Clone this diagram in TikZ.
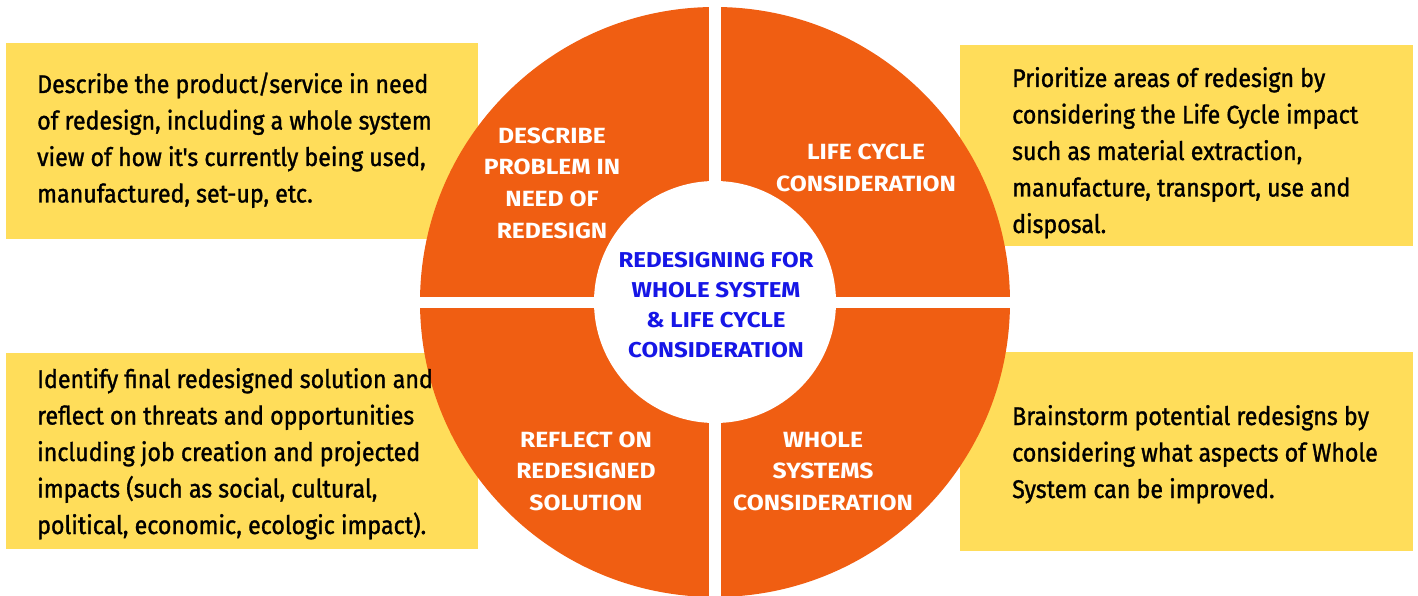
\documentclass[tikz,border=0pt]{standalone}
\usepackage{fontspec}
\setmainfont{Fira Sans}[FakeStretch=0.91,FakeBold=1.2,Ligatures=TeXOff]
\newfontfamily\labelfont{Fira Sans}[FakeStretch=1.12,UprightFont=* Bold]
\definecolor{wheelorange}{RGB}{240,94,18}
\definecolor{boxyellow}{RGB}{255,221,90}
\definecolor{centerblue}{RGB}{22,22,230}
\begin{document}
\begin{tikzpicture}[x=1pt,y=-1pt,
  infobox/.style={fill=boxyellow},
  bodytext/.style={anchor=base west,align=left,inner sep=0pt,
    font=\fontsize{25.5}{36.5}\selectfont,text=black},
  seglabel/.style={align=center,inner sep=0pt,text=white,
    font=\fontsize{22}{31.6}\selectfont\labelfont},
  hublabel/.style={align=center,inner sep=0pt,text=centerblue,
    font=\fontsize{21.5}{30.2}\selectfont\labelfont}]
\useasboundingbox (0,0) rectangle (1418,596);
% yellow boxes
\fill[infobox] (6,43) rectangle (478,239);
\fill[infobox] (960,45) rectangle (1413,246);
\fill[infobox] (6,353) rectangle (478,549);
\fill[infobox] (960,352) rectangle (1413,551);
% wheel
\coordinate (hub) at (715,302);
\fill[wheelorange] (hub) circle[radius=295];
\begin{scope}
  \clip (hub) circle[radius=296];
  \fill[white] (709,0) rectangle (721,600);
  \fill[white] (410,297) rectangle (1020,308);
\end{scope}
\fill[white] (hub) circle[radius=121];
% segment labels
\node[seglabel] (describe) at (552,183) {DESCRIBE\\PROBLEM IN\\NEED OF\\REDESIGN};
\node[seglabel] (lifecycle) at (866,168) {LIFE CYCLE\\CONSIDERATION};
\node[seglabel] (reflect) at (586,471) {REFLECT ON\\REDESIGNED\\SOLUTION};
\node[seglabel] (whole) at (823,471) {WHOLE\\SYSTEMS\\CONSIDERATION};
\node[hublabel] (center) at (716,305) {REDESIGNING FOR\\WHOLE SYSTEM\\\& LIFE CYCLE\\CONSIDERATION};
% body texts (anchored at the baseline of the last line)
\node[bodytext] (tl) at (37,202.5) {Describe the product/service in need\\of redesign, including a whole system\\view of how it's currently being used,\\manufactured, set-up, etc.};
\node[bodytext] (tr) at (1012,233) {Prioritize areas of redesign by\\considering the Life Cycle impact\\such as material extraction,\\manufacture, transport, use and\\disposal.};
\node[bodytext] (bl) at (37,534) {Identify final redesigned solution and\\reflect on threats and opportunities\\including job creation and projected\\impacts (such as social, cultural,\\political, economic, ecologic impact).};
\node[bodytext] (br) at (1012,498) {Brainstorm potential redesigns by\\considering what aspects of Whole\\System can be improved.};
\end{tikzpicture}
\end{document}
